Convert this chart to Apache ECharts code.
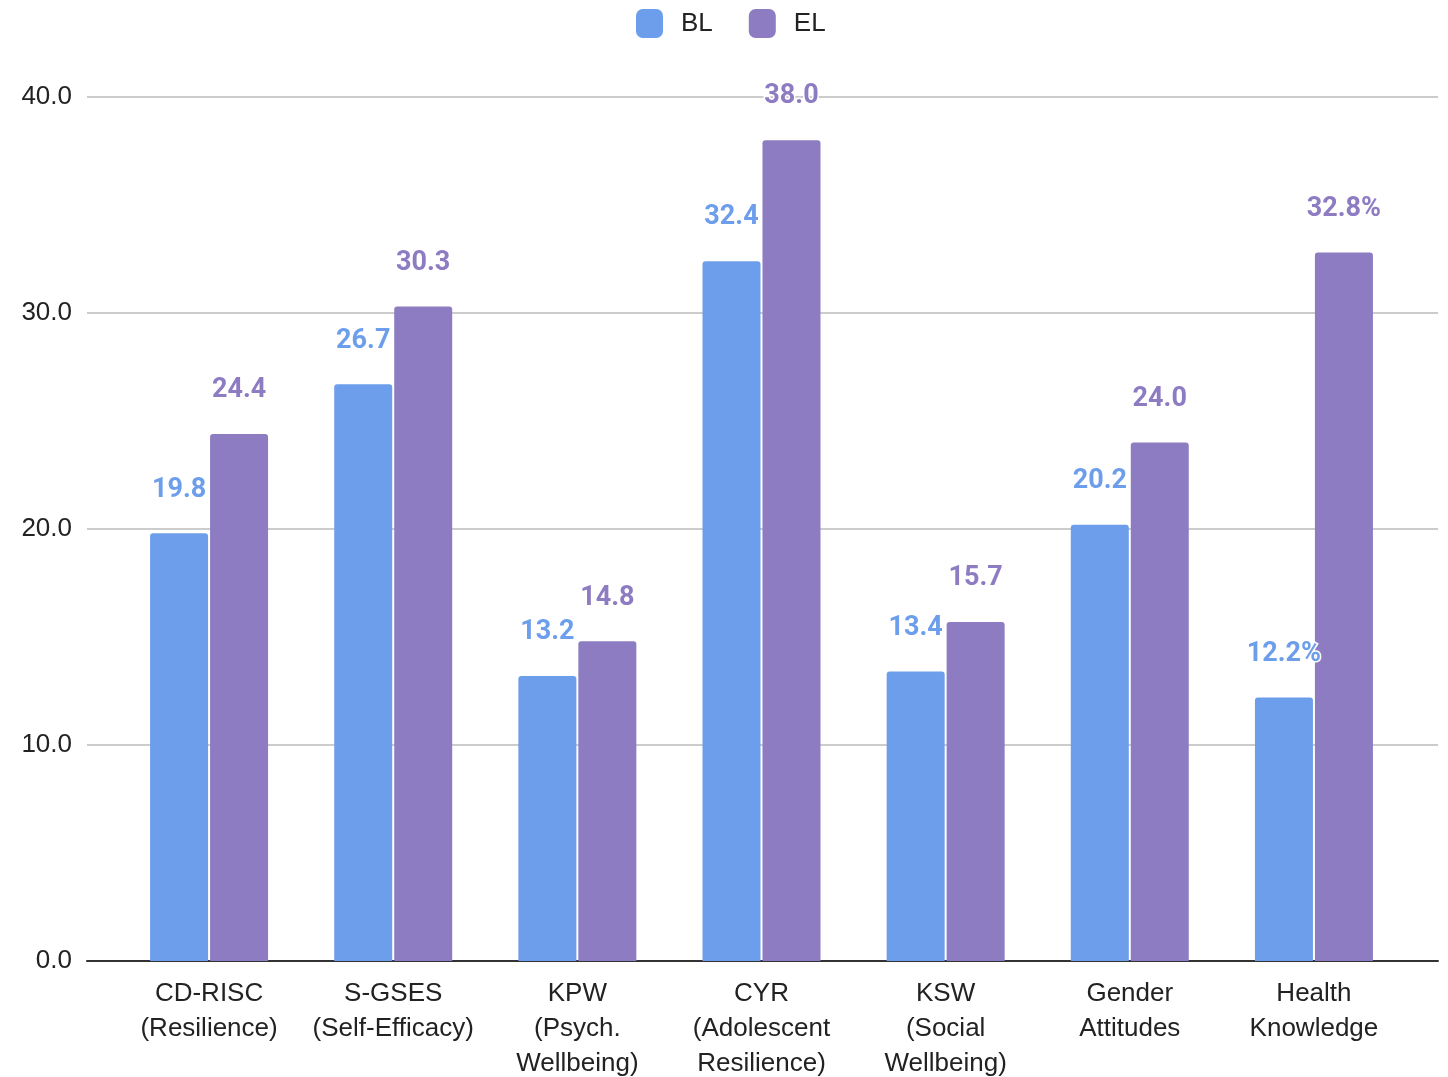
<!DOCTYPE html>
<html>
<head>
<meta charset="utf-8">
<script src="https://cdn.jsdelivr.net/npm/echarts@6/dist/echarts.min.js"></script>
<style>
  html, body { margin: 0; padding: 0; background: #fff; }
  #chart { width: 1448px; height: 1077px; }
</style>
</head>
<body>
<div id="chart"></div>
<script>
// 分类与数据
var categories = [
  'CD-RISC\n(Resilience)',
  'S-GSES\n(Self-Efficacy)',
  'KPW\n(Psych.\nWellbeing)',
  'CYR\n(Adolescent\nResilience)',
  'KSW\n(Social\nWellbeing)',
  'Gender\nAttitudes',
  'Health\nKnowledge'
]
var blData = [19.8, 26.7, 13.2, 32.4, 13.4, 20.2, 12.2]
var elData = [24.4, 30.3, 14.8, 38.0, 15.7, 24.0, 32.8]
// 标签后缀（最后一项是百分比）
var labelUnits = ['', '', '', '', '', '', '%']
var yTicks = [0, 10, 20, 30, 40]

var BL_COLOR = '#6d9eeb'
var EL_COLOR = '#8e7cc3'

var chart = echarts.init(document.getElementById('chart'))

function barLabel (color) {
  return {
    show: true,
    position: 'top',
    distance: 30,
    color: color,
    fontFamily: 'Roboto',
    fontWeight: 'bold',
    fontSize: 27,
    textBorderColor: '#fff',
    textBorderWidth: 3,
    formatter: function (p) {
      return p.value.toFixed(1) + labelUnits[p.dataIndex]
    }
  }
}

chart.setOption({
  animation: false,
  textStyle: { fontFamily: 'Liberation Sans' },
  legend: {
    top: 4,
    left: 631,
    itemWidth: 27,
    itemHeight: 29,
    itemGap: 36,
    icon: 'roundRect',
    textStyle: {
      fontSize: 26,
      color: '#222',
      fontFamily: 'Liberation Sans',
      padding: [0, 0, 0, 13]
    },
    data: ['BL', 'EL']
  },
  grid: [
    // 柱子所在网格（标签超出也不缩小网格）
    { left: 117, right: 42, top: 97, bottom: 116, outerBoundsMode: 'none' },
    // 网格线与刻度
    { left: 87, right: 10, top: 97, bottom: 116, outerBoundsMode: 'none' }
  ],
  xAxis: [
    {
      gridIndex: 0,
      type: 'category',
      data: categories,
      axisLine: { show: false },
      axisTick: { show: false },
      axisLabel: {
        interval: 0,
        margin: 15,
        fontSize: 26,
        lineHeight: 35,
        color: '#222',
        fontFamily: 'Liberation Sans'
      }
    },
    {
      gridIndex: 1,
      type: 'value',
      min: 0,
      max: 1,
      axisLine: { show: true, lineStyle: { color: '#333', width: 2 } },
      axisTick: { show: false },
      axisLabel: { show: false },
      splitLine: { show: false }
    }
  ],
  yAxis: [
    {
      gridIndex: 0,
      type: 'value',
      min: yTicks[0],
      max: yTicks[yTicks.length - 1],
      interval: 10,
      show: false
    },
    {
      gridIndex: 1,
      type: 'value',
      min: yTicks[0],
      max: yTicks[yTicks.length - 1],
      interval: 10,
      axisLine: { show: false },
      axisTick: { show: false },
      axisLabel: {
        margin: 15,
        fontSize: 26,
        color: '#222',
        fontFamily: 'Liberation Sans',
        padding: [6, 0, 0, 0],
        formatter: function (v) { return v.toFixed(1) }
      },
      splitLine: { lineStyle: { color: '#cccccc', width: 2 } }
    }
  ],
  series: [
    {
      name: 'BL',
      type: 'bar',
      xAxisIndex: 0,
      yAxisIndex: 0,
      data: blData,
      barWidth: '31.5%',
      barGap: '3.4%',
      itemStyle: { color: BL_COLOR, borderRadius: [3, 3, 0, 0] },
      label: barLabel(BL_COLOR)
    },
    {
      name: 'EL',
      type: 'bar',
      xAxisIndex: 0,
      yAxisIndex: 0,
      data: elData,
      barWidth: '31.5%',
      barGap: '3.4%',
      itemStyle: { color: EL_COLOR, borderRadius: [3, 3, 0, 0] },
      label: barLabel(EL_COLOR)
    }
  ]
})
</script>
</body>
</html>
